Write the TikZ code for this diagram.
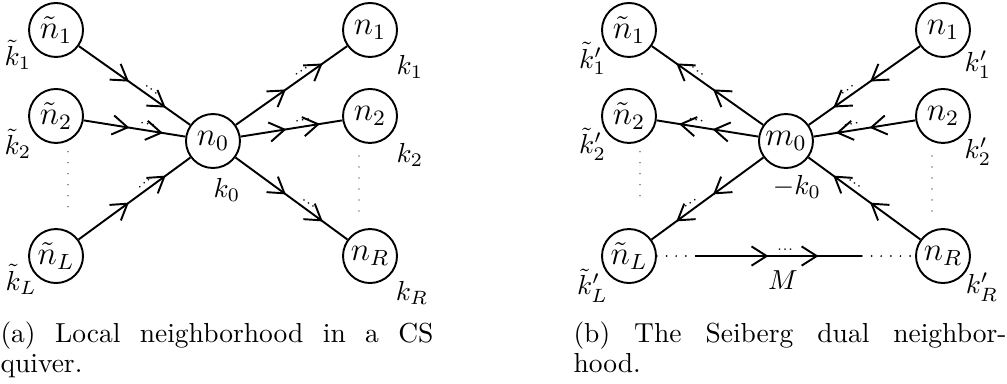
\documentclass[tikz,border=0pt]{standalone}
\usepackage{amsmath, amssymb}
\usetikzlibrary{arrows.meta, decorations.markings}

\tikzset{
	quiv/.style={circle, draw, line width=0.7pt, minimum size=0.69cm, inner sep=0pt, font=\large},
	lab/.style={inner sep=0pt, font=\normalsize},
	bif/.style 2 args={line width=0.7pt, decoration={markings,
		mark=at position #1 with {\arrow{Straight Barb[length=5.5pt,width=7pt]}},
		mark=at position #2 with {\arrow{Straight Barb[length=5.5pt,width=7pt]}}},
		postaction={decorate}},
	mult/.style={sloped, above, inner sep=1.6pt, font=\tiny},
	vdots/.style={line width=0.5pt, dash pattern=on 0pt off 4pt, line cap=round},
	hdots/.style={line width=0.7pt, dash pattern=on 0pt off 3.5pt, line cap=round},
	capt/.style={anchor=north west, inner sep=0pt, text width=5.534cm, align=justify, font=\fontsize{10}{11}\selectfont}
}

\begin{document}
\begin{tikzpicture}
	\useasboundingbox (0,0) rectangle (12.87,-4.895);
	% (a) the local neighborhood
	\node[quiv] (tn1) at (0.716,-0.383) {$\tilde{n}_1$};
	\node[quiv] (tn2) at (0.716,-1.482) {$\tilde{n}_2$};
	\node[quiv] (tnL) at (0.716,-3.272) {$\tilde{n}_L$};
	\node[quiv] (n0) at (2.722,-1.802) {$n_0$};
	\node[quiv] (n1) at (4.729,-0.383) {$n_1$};
	\node[quiv] (n2) at (4.729,-1.482) {$n_2$};
	\node[quiv] (nR) at (4.729,-3.272) {$n_R$};
	\draw[bif={0.45}{0.78}] (tn1) -- node[mult, pos=0.62] {...} (n0);
	\draw[bif={0.45}{0.78}] (tn2) -- node[mult, pos=0.62] {...} (n0);
	\draw[bif={0.45}{0.78}] (tnL) -- node[mult, pos=0.62] {...} (n0);
	\draw[bif={0.45}{0.78}] (n0) -- node[mult, pos=0.62] {...} (n1);
	\draw[bif={0.45}{0.78}] (n0) -- node[mult, pos=0.62] {...} (n2);
	\draw[bif={0.45}{0.78}] (n0) -- node[mult, pos=0.62] {...} (nR);
	\draw[vdots] ([xshift=0.153cm,yshift=-0.1cm]tn2.south) -- ([xshift=0.153cm,yshift=0.27cm]tnL.north);
	\draw[vdots] ([xshift=-0.141cm,yshift=-0.154cm]n2.south) -- ([xshift=-0.141cm,yshift=0.205cm]nR.north);
	\node[lab] (lk1) at (0.23,-0.70) {$\tilde{k}_1$};
	\node[lab] (lk2) at (0.23,-1.835) {$\tilde{k}_2$};
	\node[lab] (lkL) at (0.27,-3.57) {$\tilde{k}_L$};
	\node[lab] (rk1) at (5.240,-0.856) {$k_1$};
	\node[lab] (rk2) at (5.240,-1.981) {$k_2$};
	\node[lab] (rkR) at (5.265,-3.745) {$k_R$};
	\node[lab] (k0) at (2.901,-2.428) {$k_0$};
	\node[capt] (capa) at (0,-4.107) {(a) Local neighborhood in a CS\linebreak quiver.};
	% (b) the Seiberg dual
	\begin{scope}[xshift=7.323cm]
		\node[quiv] (dn1) at (0.716,-0.383) {$\tilde{n}_1$};
		\node[quiv] (dn2) at (0.716,-1.482) {$\tilde{n}_2$};
		\node[quiv] (dnL) at (0.716,-3.272) {$\tilde{n}_L$};
		\node[quiv] (m0) at (2.722,-1.802) {$m_0$};
		\node[quiv] (en1) at (4.729,-0.383) {$n_1$};
		\node[quiv] (en2) at (4.729,-1.482) {$n_2$};
		\node[quiv] (enR) at (4.729,-3.272) {$n_R$};
		\draw[bif={0.45}{0.78}] (m0) -- node[mult, pos=0.62] {...} (dn1);
		\draw[bif={0.45}{0.78}] (m0) -- node[mult, pos=0.62] {...} (dn2);
		\draw[bif={0.45}{0.78}] (m0) -- node[mult, pos=0.62] {...} (dnL);
		\draw[bif={0.45}{0.78}] (en1) -- node[mult, pos=0.62] {...} (m0);
		\draw[bif={0.45}{0.78}] (en2) -- node[mult, pos=0.62] {...} (m0);
		\draw[bif={0.45}{0.78}] (enR) -- node[mult, pos=0.62] {...} (m0);
		\coordinate (ma) at (1.559,-3.272);
		\coordinate (mb) at (3.693,-3.272);
		\draw[hdots] (dnL) -- (ma);
		\draw[bif={0.44}{0.74}] (ma) -- node[mult, pos=0.54] {...} (mb);
		\draw[hdots] (mb) -- (enR);
		\node[lab] (mM) at (2.684,-3.578) {$M$};
		\draw[vdots] ([xshift=0.14cm,yshift=-0.1cm]dn2.south) -- ([xshift=0.14cm,yshift=0.28cm]dnL.north);
		\draw[vdots] ([xshift=-0.14cm,yshift=-0.154cm]en2.south) -- ([xshift=-0.14cm,yshift=0.18cm]enR.north);
		\node[lab] (dk1) at (0.25,-0.75) {$\tilde{k}'_1$};
		\node[lab] (dk2) at (0.25,-1.84) {$\tilde{k}'_2$};
		\node[lab] (dkL) at (0.25,-3.65) {$\tilde{k}'_L$};
		\node[lab] (ek1) at (5.176,-0.831) {$k'_1$};
		\node[lab] (ek2) at (5.176,-1.943) {$k'_2$};
		\node[lab] (ekR) at (5.227,-3.668) {$k'_R$};
		\node[lab] (mk0) at (2.863,-2.390) {$-k_0$};
		\node[capt] (capb) at (0,-4.107) {(b) The Seiberg dual neighbor-\linebreak hood.};
	\end{scope}
\end{tikzpicture}
\end{document}
